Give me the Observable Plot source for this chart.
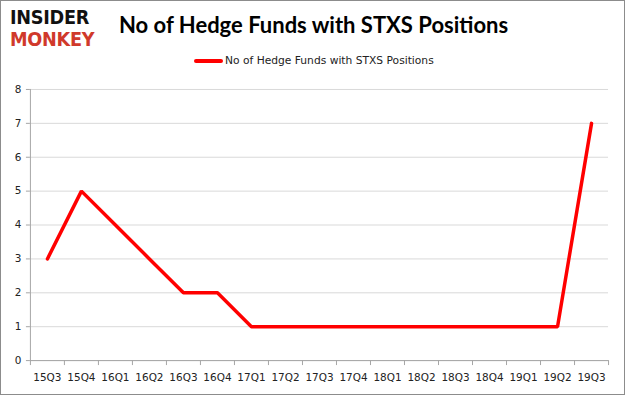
<!DOCTYPE html>
<html>
<head>
<meta charset="utf-8">
<script src="https://cdn.jsdelivr.net/npm/d3@7"></script>
<script src="https://cdn.jsdelivr.net/npm/@observablehq/plot@0.6"></script>
<style>
  html, body { margin: 0; padding: 0; background: #fff; }
  #frame { position: relative; width: 625px; height: 395px; box-sizing: border-box; border: 1px solid #8c8c8c; overflow: hidden; }
  #logo1, #logo2 { position: absolute; left: 9px; font-family: "DejaVu Sans", sans-serif; font-weight: bold; font-size: 19px; letter-spacing: -0.3px; line-height: 1; }
  #logo1 { top: 7px; color: #111; transform: scaleX(0.93); transform-origin: left; }
  #logo2 { top: 29px; color: #d0392b; transform: scaleX(0.93); transform-origin: left; }
  #title { position: absolute; left: 118px; top: 10px; font-family: "Lato", sans-serif; font-weight: bold; font-size: 22px; color: #000; white-space: nowrap; }
  #legend { position: absolute; left: 193px; top: 53px; font-family: "DejaVu Sans", sans-serif; font-size: 10.7px; color: #222; white-space: nowrap; display: flex; align-items: center; }
  #legend .sw { display: inline-block; width: 29px; height: 4px; background: #ff0000; border-radius: 2px; margin-right: 2px; }
  #chart { position: absolute; left: 0; top: 75px; }
</style>
</head>
<body>
<div id="frame">
  <div id="logo1">INSIDER</div>
  <div id="logo2">MONKEY</div>
  <div id="title">No of Hedge Funds with STXS Positions</div>
  <div id="legend"><span class="sw"></span><span id="legendText"></span></div>
  <div id="chart"></div>
</div>
<script>
const seriesName = "No of Hedge Funds with STXS Positions";
const quarters = ["15Q3","15Q4","16Q1","16Q2","16Q3","16Q4","17Q1","17Q2","17Q3","17Q4","18Q1","18Q2","18Q3","18Q4","19Q1","19Q2","19Q3"];
const funds = [3, 5, 4, 3, 2, 2, 1, 1, 1, 1, 1, 1, 1, 1, 1, 1, 7];
const yTicks = [0, 1, 2, 3, 4, 5, 6, 7, 8];

document.getElementById("legendText").textContent = seriesName;

const data = quarters.map((q, i) => ({i, q, v: funds[i]}));
const idx = quarters.map((q, i) => i);
const bounds = [...idx.map(i => i - 0.5), quarters.length - 0.5];

const chart = Plot.plot({
  width: 625,
  height: 320,
  marginTop: 13,
  marginBottom: 35,
  marginLeft: 29,
  marginRight: 16,
  style: { fontFamily: "DejaVu Sans, sans-serif", fontSize: "10.5px", color: "#222" },
  x: { type: "linear", domain: [-0.5, quarters.length - 0.5] },
  y: { domain: [0, 8] },
  marks: [
    Plot.gridY(yTicks, { stroke: "#d9d9d9", strokeOpacity: 1 }),
    Plot.ruleY([0], { stroke: "#a6a6a6" }),
    Plot.ruleX([-0.5], { stroke: "#a6a6a6" }),
    Plot.axisY(yTicks, { tickSize: 4, tickPadding: 5, stroke: "#a6a6a6", label: null, fill: "#222" }),
    Plot.axisX(bounds, { tickSize: 5, tickFormat: () => "", stroke: "#a6a6a6", label: null }),
    Plot.axisX(idx, { tickSize: 0, tickPadding: 13, tickFormat: i => quarters[i], label: null, fill: "#222" }),
    Plot.line(data, { x: "i", y: "v", stroke: "#ff0000", strokeWidth: 3.5, strokeLinejoin: "miter" })
  ]
});
document.getElementById("chart").appendChild(chart);
</script>
</body>
</html>
